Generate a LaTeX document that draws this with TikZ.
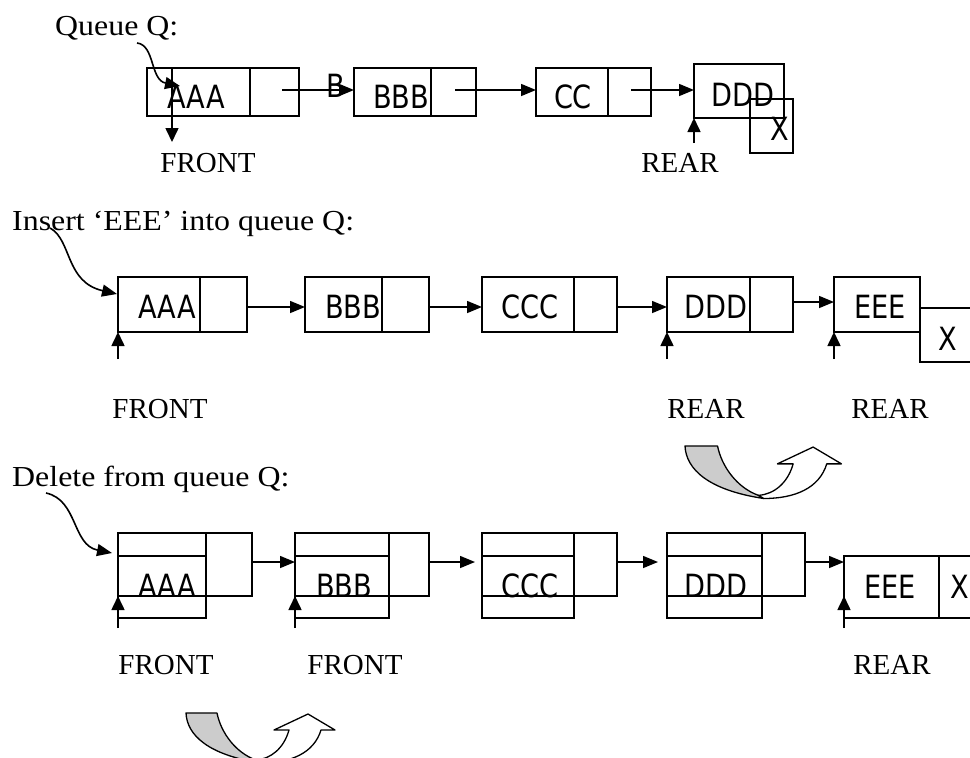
\documentclass[tikz,border=0pt]{standalone}
\usepackage{fontspec}
\setmainfont{Liberation Serif}
\newfontfamily\headfont{Liberation Serif}[FakeStretch=1.1]
\newfontfamily\boxfont{DejaVu Sans}[FakeStretch=0.85]
\usetikzlibrary{arrows.meta,fit}
\definecolor{ushade}{RGB}{204,204,204}
\begin{document}
\begin{tikzpicture}[x=1pt,y=-1pt,
 cell/.style={draw, line width=1.8pt, inner sep=0pt, outer sep=0pt},
 val/.style={font=\boxfont\fontsize{32}{32}\selectfont, anchor=base, inner sep=0pt},
 lab/.style={font=\fontsize{29}{29}\selectfont, inner sep=0pt},
 head/.style={font=\headfont\fontsize{29}{29}\selectfont, anchor=base west, inner sep=0pt},
 link/.style={line width=1.5pt, -{Triangle[length=15pt,width=12pt]}},
 ptr/.style={line width=1.6pt, -{Triangle[length=14pt,width=13pt]}},
 curvy/.style={line width=1.6pt, -{Triangle[length=15pt,width=12pt]}},
 uback/.style={draw, line width=1.3pt, fill=ushade, line join=round},
 ufront/.style={draw, line width=1.3pt, fill=white, line join=round},
]
\useasboundingbox (0,0) rectangle (970,758);
\clip (0,0) rectangle (970,758);

% ---------------- Row 1 ----------------
\node[head] (t1) at (55,35) {Queue Q:};
\node[cell, fit={(147,68) (250,116)}] (r1a) {};
\node[cell, fit={(250,68) (299,116)}] (r1ap) {};
\node[val] (v1a) at (196,108) {AAA};
\node[cell, fit={(354,68) (431,116)}] (r1b) {};
\node[cell, fit={(431,68) (476,116)}] (r1bp) {};
\node[val] (v1b) at (401,108) {BBB};
\node[cell, fit={(536,68) (608,116)}] (r1c) {};
\node[cell, fit={(608,68) (651,116)}] (r1cp) {};
\node[val] (v1c) at (573,108) {CC};
\node[cell, fit={(694,64) (784,118)}] (r1d) {};
\node[val] (v1d) at (743,106) {DDD};
\node[cell, fit={(750,99) (793,153)}] (r1x) {};
\node[val] (v1x) at (780,140) {X};
\node[val] (v1B) at (336,97) {B};

\coordinate (c1s) at (137,43);
\coordinate (c1e) at (180,86);
\draw[curvy] (c1s) .. controls (155,45) and (150,80) .. (c1e);
\coordinate (p1a) at (282,90);
\coordinate (p1b) at (455,90);
\coordinate (p1c) at (631,90);
\draw[link] (p1a) -- (p1a -| r1b.west);
\draw[link] (p1b) -- (p1b -| r1c.west);
\draw[link] (p1c) -- (p1c -| r1d.west);
\coordinate (f1a) at (172,68);
\coordinate (f1b) at (172,142);
\draw[ptr] (f1a) -- (f1b);
\coordinate (rr1) at (694,143);
\draw[ptr] (rr1) -- (rr1 |- r1d.south);
\node[lab] (l1f) at (208,163) {FRONT};
\node[lab] (l1r) at (680,163) {REAR};

% ---------------- Row 2 ----------------
\node[head] (t2) at (12,230) {Insert ‘EEE’ into queue Q:};
\node[cell, fit={(118,277) (200,332)}] (r2a) {};
\node[cell, fit={(200,277) (247,332)}] (r2ap) {};
\node[cell, fit={(305,277) (382,332)}] (r2b) {};
\node[cell, fit={(382,277) (429,332)}] (r2bp) {};
\node[cell, fit={(482,277) (574,332)}] (r2c) {};
\node[cell, fit={(574,277) (617,332)}] (r2cp) {};
\node[cell, fit={(667,277) (750,332)}] (r2d) {};
\node[cell, fit={(750,277) (793,332)}] (r2dp) {};
\node[cell, fit={(834,277) (920,332)}] (r2e) {};
\node[cell, fit={(920,308) (990,362)}] (r2x) {};
\node[val] (v2a) at (167,318) {AAA};
\node[val] (v2b) at (353,318) {BBB};
\node[val] (v2c) at (530,318) {CCC};
\node[val] (v2d) at (716,318) {DDD};
\node[val] (v2e) at (880,318) {EEE};
\node[val] (v2x) at (948,350) {X};
\draw[link] (r2ap.east |- 0,307) -- (r2b.west |- 0,307);
\draw[link] (r2bp.east |- 0,307) -- (r2c.west |- 0,307);
\draw[link] (r2cp.east |- 0,307) -- (r2d.west |- 0,307);
\draw[link] (r2dp.east |- 0,302) -- (r2e.west |- 0,302);
\coordinate (c2s) at (50,228);
\coordinate (c2e) at (117,294);
\draw[curvy] (c2s) .. controls (72,240) and (65,282) .. (c2e);
\coordinate (u2a) at (118,359);
\coordinate (u2d) at (667,359);
\coordinate (u2e) at (834,359);
\draw[ptr] (u2a) -- (r2a.south west);
\draw[ptr] (u2d) -- (r2d.south west);
\draw[ptr] (u2e) -- (r2e.south west);
\node[lab] (l2f) at (160,409) {FRONT};
\node[lab] (l2r1) at (706,409) {REAR};
\node[lab] (l2r2) at (890,409) {REAR};

% U-turn arrow (between rows 2 and 3)
\begin{scope}[shift={(685,446)}, scale=1.05]
\path[uback] (0,0) -- (31,0) .. controls (35,20) and (50,40) .. (70,47) -- (75,50) .. controls (22,42) and (1,22) .. (0,0) -- cycle;
\path[ufront] (70,47) -- (75,50) .. controls (105,50) and (128,40) .. (135,17) -- (149,17) -- (122,1) -- (88,17) -- (103,17) .. controls (98,35) and (85,46) .. (70,47) -- cycle;
\end{scope}

% ---------------- Row 3 ----------------
\node[head] (t3) at (12,486) {Delete from queue Q:};
\foreach \n/\xa/\xd/\xb in {a/118/206/252, b/295/389/429, c/482/574/617, d/667/762/805}{
  \node[cell, fit={(\xa,533) (\xb,596)}] (r3\n) {};
  \node[cell, fit={(\xa,533) (\xd,596)}] (r3\n l) {};
  \node[cell, fit={(\xa,556) (\xd,618)}] (r3\n b) {};
}
\node[cell, fit={(844,556) (939,618)}] (r3e) {};
\node[cell, fit={(939,556) (1000,618)}] (r3x) {};
\node[val] (v3a) at (167,597) {AAA};
\node[val] (v3b) at (344,597) {BBB};
\node[val] (v3c) at (530,597) {CCC};
\node[val] (v3d) at (716,597) {DDD};
\node[val] (v3e) at (890,598) {EEE};
\node[val] (v3x) at (960,598) {X};
\draw[link] (r3a.east |- 0,562) -- (r3b.west |- 0,562);
\draw[link] (r3b.east |- 0,562) -- ([xshift=-7pt]r3c.west |- 0,562);
\draw[link] (r3c.east |- 0,562) -- ([xshift=-9pt]r3d.west |- 0,562);
\draw[link] (r3d.east |- 0,562) -- (r3e.west |- 0,562);
\coordinate (c3s) at (46,493);
\coordinate (c3e) at (112,553);
\draw[curvy] (c3s) .. controls (78,500) and (72,545) .. (c3e);
\coordinate (u3a) at (118,628);
\coordinate (u3b) at (295,628);
\coordinate (u3e) at (844,628);
\draw[ptr] (u3a) -- (r3a.south west);
\draw[ptr] (u3b) -- (r3b.south west);
\draw[ptr] (u3e) -- (u3e |- 0,596);
\node[lab] (l3f1) at (166,665) {FRONT};
\node[lab] (l3f2) at (355,665) {FRONT};
\node[lab] (l3r) at (892,665) {REAR};

% U-turn arrow (bottom)
\begin{scope}[shift={(186,713)}]
\path[uback] (0,0) -- (31,0) .. controls (35,20) and (50,40) .. (70,47) -- (75,50) .. controls (22,42) and (1,22) .. (0,0) -- cycle;
\path[ufront] (70,47) -- (75,50) .. controls (105,50) and (128,40) .. (135,17) -- (149,17) -- (122,1) -- (88,17) -- (103,17) .. controls (98,35) and (85,46) .. (70,47) -- cycle;
\end{scope}
\end{tikzpicture}
\end{document}
